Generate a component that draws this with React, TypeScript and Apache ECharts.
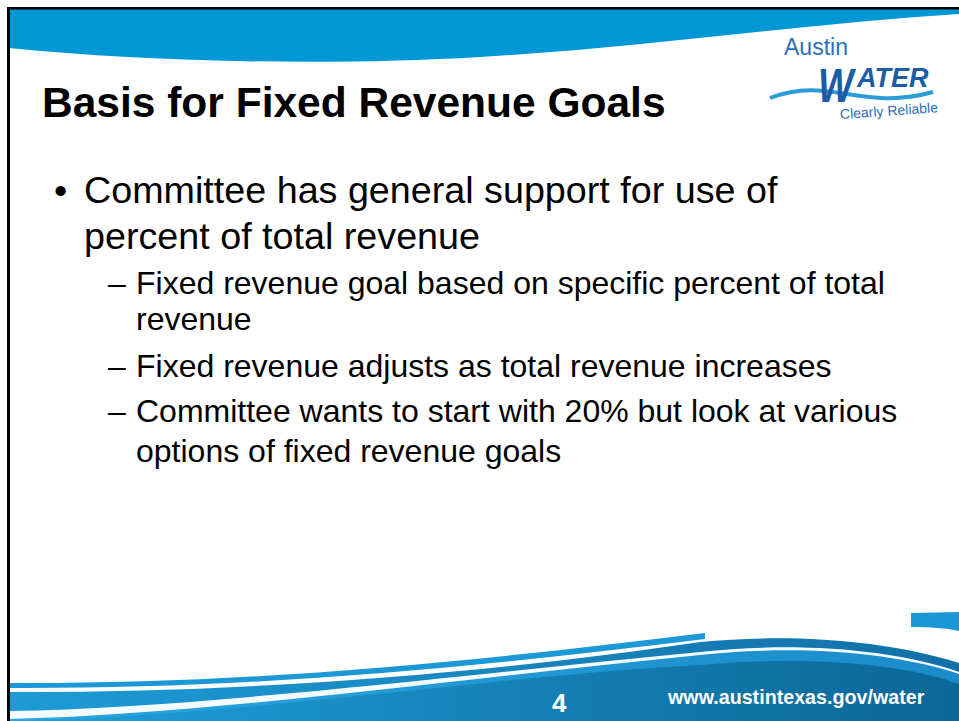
import React, { useEffect, useRef } from "react";
import * as echarts from "echarts";

const titleText = "Basis for Fixed Revenue Goals";
const mainBulletLines = ["Committee has general support for use of", "percent of total revenue"];
const mainBaselines = [203, 249];
const subBulletItems = [
  ["Fixed revenue goal based on specific percent of total", "revenue"],
  ["Fixed revenue adjusts as total revenue increases"],
  ["Committee wants to start with 20% but look at various", "options of fixed revenue goals"],
];
const subBaselines = [[294, 330], [377], [422, 462]];
const logoWords = ["Austin", "W", "ATER", "Clearly Reliable"];
const pageNumber = "4";
const footerUrl = "www.austintexas.gov/water";

const SHAPES: Record<string, string> = {
  topSwoosh: "M9 48 C150 62 330 66 480 57 C650 47 800 24 959 14 L959 9 L9 9 Z",
  stripe1: "M9 683 C250 684 470 662 705 633 L705 700 L9 721 Z",
  white1: "M9 688 C250 689 470 668 705 639 L705 700 L9 721 Z",
  band2: "M9 692 C250 693 500 672 700 642 C780 634 880 638 959 663 L959 721 L9 721 Z",
  white2: "M9 711 C200 708 450 676 700 652 C790 642 890 648 959 672 L959 721 L9 721 Z",
  main1: "M9 719 C200 715 450 680 700 655 C790 645 890 651 959 674 L959 721 L9 721 Z",
  main2: "M9 721 C250 716 500 675 700 665 C800 656 900 662 959 684 L959 721 Z",
  cornerPiece: "M911 613 L959 612 L959 631 C945 628 930 627 911 627 Z",
};

let registered = false;
function registerShapes() {
  if (registered) return;
  Object.keys(SHAPES).forEach((k) => {
    echarts.graphic.registerShape(k, echarts.graphic.extendPath(SHAPES[k], {}) as any);
  });
  registered = true;
}

const FONT = "'Liberation Sans', Arial, Helvetica, sans-serif";

function txt(text: string, x: number, baseline: number, fs: number, opts: any = {}) {
  return {
    type: "text",
    x,
    y: baseline - 0.35 * fs,
    silent: true,
    ...(opts.el || {}),
    style: {
      text,
      fontSize: fs,
      fontFamily: opts.family || FONT,
      fontWeight: opts.weight || "normal",
      fontStyle: opts.style || "normal",
      fill: opts.fill || "#000",
      textAlign: opts.align || "left",
      textVerticalAlign: "middle",
    },
  };
}

function hGrad(a: string, b: string) {
  return new echarts.graphic.LinearGradient(0, 0, 1, 0, [
    { offset: 0, color: a },
    { offset: 1, color: b },
  ]);
}

export default function App() {
  const ref = useRef<HTMLDivElement>(null);
  useEffect(() => {
    if (!ref.current) return;
    registerShapes();
    const chart = echarts.init(ref.current, undefined, { renderer: "svg" });
    const els: any[] = [];
    els.push({ type: "rect", shape: { x: 0, y: 0, width: 959, height: 721 }, style: { fill: "#fff" }, silent: true });
    els.push({ type: "topSwoosh", x: 0, y: 0, style: { fill: "#0097d7" }, silent: true });
    els.push({ type: "cornerPiece", x: 0, y: 0, style: { fill: "#1a97d5" }, silent: true });
    els.push({ type: "stripe1", x: 0, y: 0, style: { fill: "#1c98d6" }, silent: true });
    els.push({ type: "white1", x: 0, y: 0, style: { fill: "#ffffff" }, silent: true });
    els.push({ type: "band2", x: 0, y: 0, style: { fill: hGrad("#1d9bd7", "#1270a7") }, silent: true });
    els.push({ type: "white2", x: 0, y: 0, style: { fill: "#f4fbff" }, silent: true });
    els.push({ type: "main1", x: 0, y: 0, style: { fill: hGrad("#29a6e0", "#1b8cca") }, silent: true });
    els.push({ type: "main2", x: 0, y: 0, style: { fill: hGrad("#20a0db", "#0b6797") }, silent: true });

    // border
    els.push({ type: "rect", shape: { x: 7, y: 7, width: 952, height: 2.5 }, style: { fill: "#000" }, silent: true });
    els.push({ type: "rect", shape: { x: 7, y: 7, width: 3, height: 714 }, style: { fill: "#000" }, silent: true });

    // logo
    els.push(txt(logoWords[0], 784, 55, 23, { fill: "#2a70b8" }));
    els.push({
      type: "bezierCurve",
      shape: { x1: 770, y1: 98, cpx1: 830, cpy1: 75, cpx2: 860, cpy2: 112, x2: 933, y2: 92 },
      style: { stroke: "#2c9bd9", lineWidth: 4, fill: null },
      silent: true,
    });
    els.push(txt(logoWords[1], 818, 102, 48, { weight: "bold", style: "italic", fill: "#1b5ca8", el: { scaleX: 0.78 } }));
    els.push(txt(logoWords[2], 857, 87, 27, { weight: "bold", style: "italic", fill: "#1b5ca8" }));
    els.push(txt(logoWords[3], 840, 119, 14, { fill: "#2a70b8", el: { rotation: 0.07 } }));

    // title
    els.push(txt(titleText, 42, 117, 42.5, { weight: "bold" }));

    // main bullet
    els.push(txt("\u2022", 54, mainBaselines[0], 37.7));
    mainBulletLines.forEach((l, i) => els.push(txt(l, 84, mainBaselines[i], 37.7)));

    // sub bullets
    subBulletItems.forEach((item, i) => {
      els.push(txt("\u2013", 108, subBaselines[i][0], 32));
      item.forEach((l, j) => els.push(txt(l, 136, subBaselines[i][j], 32)));
    });

    // footer
    els.push(txt(pageNumber, 552, 712, 26, { weight: "bold", fill: "#ffffff" }));
    els.push(txt(footerUrl, 668, 704, 19.7, { weight: "bold", fill: "#ffffff" }));

    chart.setOption({ animation: false, graphic: { elements: els } });
    return () => chart.dispose();
  }, []);
  return (
    <div
      ref={ref}
      style={{ position: "absolute", left: 0, top: 0, width: 959, height: 721, background: "#fff" }}
    />
  );
}
